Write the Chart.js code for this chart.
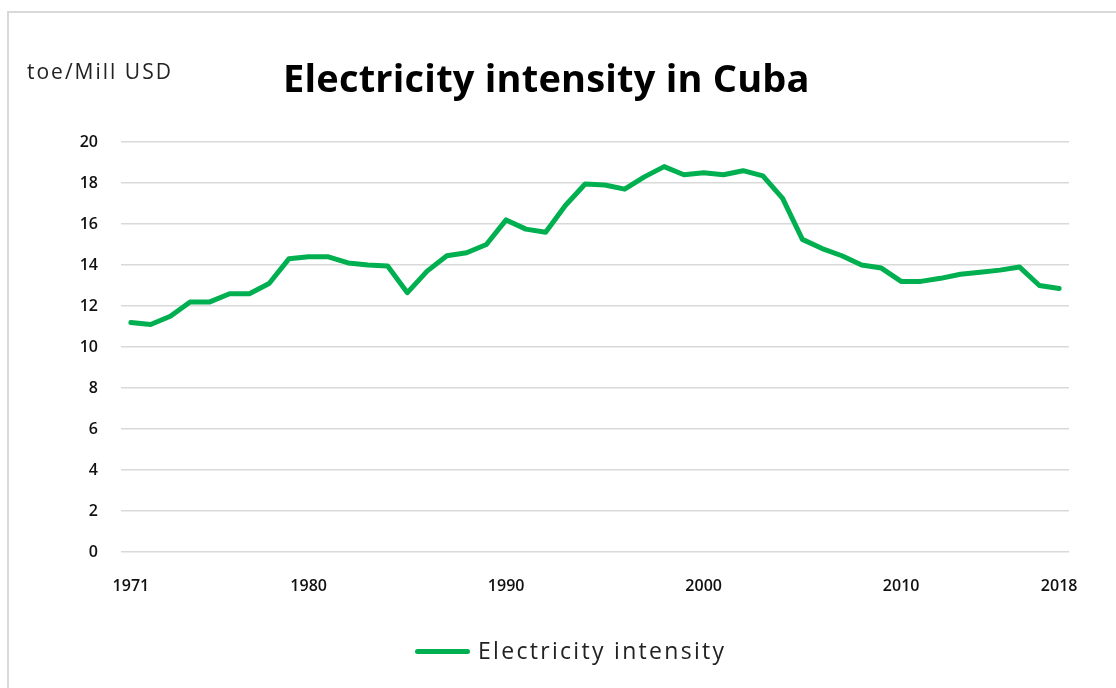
<!DOCTYPE html>
<html>
<head>
<meta charset="utf-8">
<title>Electricity intensity in Cuba</title>
<script src="https://cdn.jsdelivr.net/npm/chart.js@4.4.1/dist/chart.umd.min.js"></script>
<style>
  html, body { margin: 0; padding: 0; background: #fff; }
  body { width: 1116px; height: 688px; position: relative; overflow: hidden; font-family: "Open Sans", "DejaVu Sans", sans-serif; }
  #frame { position: absolute; left: 7px; top: 11px; width: 1200px; height: 800px; border: 2px solid #d9d9d9; box-sizing: border-box; }
  #chart-wrap { position: absolute; left: 0; top: 0; width: 1116px; height: 688px; }
  #unit { position: absolute; left: 27px; top: 57px; font-size: 21px; letter-spacing: 2px; color: #222; }
  #title { position: absolute; left: 283px; top: 51px; font-size: 38px; letter-spacing: 0.2px; font-weight: bold; color: #000; white-space: nowrap; }
  #legend { position: absolute; left: 415px; top: 634px; font-size: 23px; letter-spacing: 2.3px; color: #222; white-space: nowrap; }
  #legend .swatch { display: inline-block; width: 55px; height: 5px; border-radius: 3px; background: #00b050; vertical-align: middle; margin-right: 8px; position: relative; top: -1px; }
</style>
</head>
<body>
<div id="frame"></div>
<div id="chart-wrap"><canvas id="chart" width="1116" height="688"></canvas></div>
<div id="unit">toe/Mill USD</div>
<div id="title">Electricity intensity in Cuba</div>
<div id="legend"><span class="swatch"></span>Electricity intensity</div>

<script>
  // --- Data ---
  var YEARS = [
    '1971', '1972', '1973', '1974', '1975', '1976', '1977', '1978', '1979', '1980',
    '1981', '1982', '1983', '1984', '1985', '1986', '1987', '1988', '1989', '1990',
    '1991', '1992', '1993', '1994', '1995', '1996', '1997', '1998', '1999', '2000',
    '2001', '2002', '2003', '2004', '2005', '2006', '2007', '2008', '2009', '2010',
    '2011', '2012', '2013', '2014', '2015', '2016', '2017', '2018'
  ];

  var INTENSITY = [
    11.2, 11.1, 11.5, 12.2, 12.2, 12.6, 12.6, 13.1, 14.3, 14.4,
    14.4, 14.1, 14.0, 13.95, 12.65, 13.7, 14.45, 14.6, 15.0, 16.2,
    15.75, 15.6, 16.9, 17.95, 17.9, 17.7, 18.3, 18.8, 18.4, 18.5,
    18.4, 18.6, 18.35, 17.25, 15.25, 14.8, 14.45, 14.0, 13.85, 13.2,
    13.2, 13.35, 13.55, 13.65, 13.75, 13.9, 13.0, 12.85
  ];

  var SHOWN_YEARS = ['1971', '1980', '1990', '2000', '2010', '2018'];

  var Y_MIN = 0;
  var Y_MAX = 20;
  var Y_STEP = 2;

  // --- Chart ---
  var ctx = document.getElementById('chart');
  var tickFont = { family: '"Open Sans", sans-serif', size: 16, weight: '600' };

  new Chart(ctx, {
    type: 'line',
    data: {
      labels: YEARS,
      datasets: [{
        label: 'Electricity intensity',
        data: INTENSITY,
        borderColor: '#00b050',
        backgroundColor: '#00b050',
        borderWidth: 5,
        borderCapStyle: 'round',
        borderJoinStyle: 'round',
        pointRadius: 0,
        tension: 0,
        fill: false
      }]
    },
    options: {
      responsive: false,
      animation: false,
      layout: { padding: { left: 0, top: 142, right: 47, bottom: 96 } },
      plugins: {
        legend: { display: false },
        title: { display: false },
        tooltip: { enabled: false }
      },
      scales: {
        x: {
          offset: true,
          grid: { display: false, drawTicks: false },
          border: { display: false },
          afterFit: function (s) { s.height = 40; },
          ticks: {
            autoSkip: false,
            maxRotation: 0,
            padding: 25,
            color: '#111',
            font: tickFont,
            callback: function (v, i) {
              var lab = YEARS[i];
              return SHOWN_YEARS.indexOf(lab) >= 0 ? lab : null;
            }
          }
        },
        y: {
          min: Y_MIN,
          max: Y_MAX,
          grid: { color: '#d9d9d9', lineWidth: 1.5, drawTicks: false },
          border: { display: false },
          afterFit: function (s) { s.width = 121; },
          ticks: {
            stepSize: Y_STEP,
            padding: 23,
            color: '#111',
            font: tickFont
          }
        }
      }
    }
  });
</script>
</body>
</html>
